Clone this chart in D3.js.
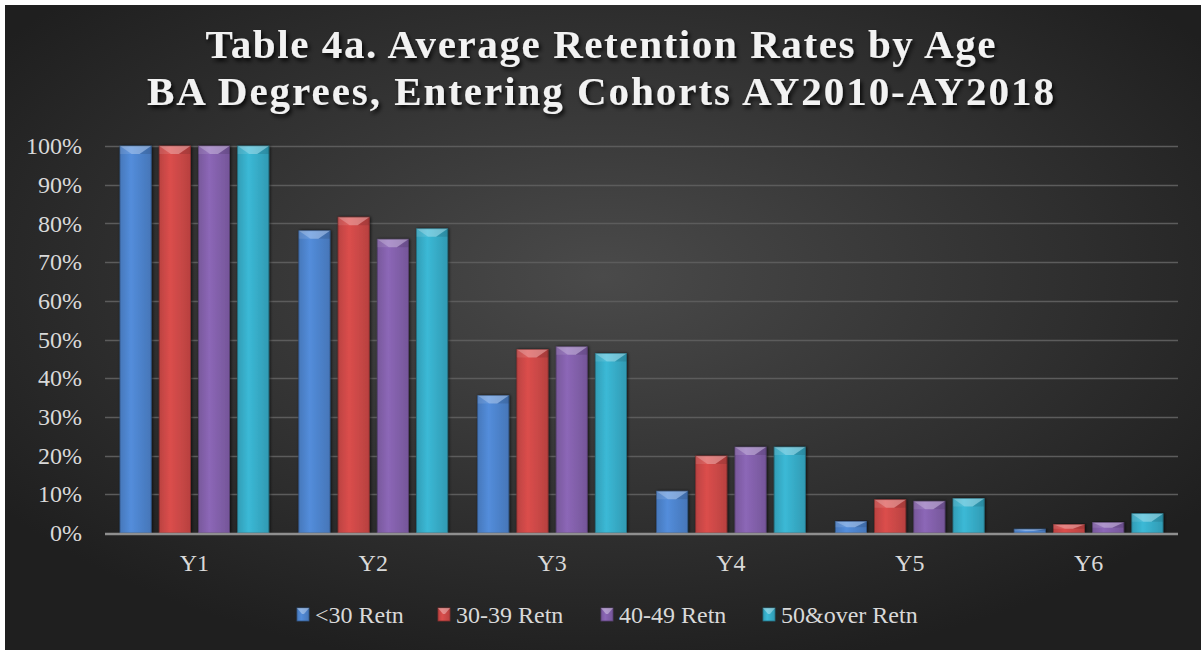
<!DOCTYPE html>
<html lang="en">

<head>
	<meta charset="UTF-8">
	<title>Retention Rates by Age</title>

	<style>
		body { margin: 0; background: #fff; }
		svg { display: block; }
		text { font-family: "Liberation Serif", "DejaVu Serif", serif; }
	</style>

	<script src="https://d3js.org/d3.v7.min.js"></script>
</head>

<body>
	<script type="text/javascript">
		const width = 1201;
		const height = 650;

		// chart data
		const years = ["Y1", "Y2", "Y3", "Y4", "Y5", "Y6"];
		const seriesNames = ["<30 Retn", "30-39 Retn", "40-49 Retn", "50&over Retn"];
		const under30 = [1.00, 0.781, 0.355, 0.108, 0.030, 0.010];
		const age30to39 = [1.00, 0.816, 0.474, 0.199, 0.086, 0.022];
		const age40to49 = [1.00, 0.759, 0.481, 0.222, 0.082, 0.027];
		const age50over = [1.00, 0.786, 0.464, 0.222, 0.089, 0.050];
		const yTicks = [0, 0.1, 0.2, 0.3, 0.4, 0.5, 0.6, 0.7, 0.8, 0.9, 1.0];
		const titleLines = ["Table 4a. Average Retention Rates by Age", "BA Degrees, Entering Cohorts AY2010-AY2018"];

		const allSeries = [under30, age30to39, age40to49, age50over];
		const colors = ["#4f86d0", "#d04a48", "#8562ad", "#38afcb"];

		const svg = d3.select("body").append("svg")
			.attr("width", width)
			.attr("height", height);

		const defs = svg.append("defs");

		// background gradient
		const bg = defs.append("radialGradient").attr("id", "bg")
			.attr("cx", "50%").attr("cy", "42%").attr("r", "62%");
		bg.append("stop").attr("offset", "0%").attr("stop-color", "#4a4a4a");
		bg.append("stop").attr("offset", "100%").attr("stop-color", "#1f1f1f");

		// bar gradients, one per series
		colors.forEach(function(c, i) {
			const g = defs.append("linearGradient").attr("id", "bar" + i)
				.attr("x1", "0%").attr("x2", "100%").attr("y1", "0%").attr("y2", "0%");
			g.append("stop").attr("offset", "0%").attr("stop-color", d3.color(c).darker(0.3));
			g.append("stop").attr("offset", "35%").attr("stop-color", d3.color(c).brighter(0.15));
			g.append("stop").attr("offset", "100%").attr("stop-color", d3.color(c).darker(0.35));
		});

		const shadow = defs.append("filter").attr("id", "shadow")
			.attr("x", "-10%").attr("y", "-20%").attr("width", "120%").attr("height", "150%");
		shadow.append("feDropShadow").attr("dx", 2).attr("dy", 3).attr("stdDeviation", 2)
			.attr("flood-color", "#000").attr("flood-opacity", 0.85);

		const barShadow = defs.append("filter").attr("id", "barShadow")
			.attr("x", "-30%").attr("y", "-10%").attr("width", "160%").attr("height", "120%");
		barShadow.append("feDropShadow").attr("dx", 1).attr("dy", 0).attr("stdDeviation", 1.5)
			.attr("flood-color", "#000").attr("flood-opacity", 0.7);

		svg.append("rect")
			.attr("x", 5).attr("y", 5)
			.attr("width", width - 5).attr("height", height - 5)
			.attr("fill", "url(#bg)");

		// title
		const titleWidths = [790, 907];
		svg.selectAll(".title")
			.data(titleLines)
			.join("text")
			.classed("title", true)
			.attr("x", width / 2)
			.attr("y", function(d, i) { return 58 + i * 47; })
			.attr("text-anchor", "middle")
			.attr("fill", "#f2f2f2")
			.attr("font-size", "41px")
			.attr("font-weight", "bold")
			.attr("textLength", function(d, i) { return titleWidths[i]; })
			.attr("lengthAdjust", "spacing")
			.attr("filter", "url(#shadow)")
			.text(function(d) { return d; });

		// scales
		const x0 = d3.scaleBand().domain(years).range([105, 1178]);
		const x1 = d3.scaleBand().domain(d3.range(seriesNames.length))
			.range([15, x0.bandwidth() - 15]).paddingInner(8 / 39);
		const y = d3.scaleLinear().domain([0, 1]).range([533, 146]);

		// gridlines
		svg.append("g")
			.selectAll("line")
			.data(yTicks.slice(1))
			.join("line")
			.attr("x1", 105).attr("x2", 1178)
			.attr("y1", function(d) { return Math.round(y(d)) + 0.5; })
			.attr("y2", function(d) { return Math.round(y(d)) + 0.5; })
			.attr("stroke", "#5c5c5c")
			.attr("stroke-width", 1.5);

		// y axis labels
		const yAxis = d3.axisLeft(y).tickValues(yTicks).tickFormat(d3.format(".0%")).tickSize(0).tickPadding(0);
		const yg = svg.append("g").attr("transform", "translate(82,0)").call(yAxis);
		yg.select(".domain").remove();
		yg.selectAll("text")
			.attr("fill", "#d9d9d9")
			.attr("font-size", "24px")
			.style("font-family", "'Liberation Serif', serif");

		// bars
		const groups = svg.append("g")
			.selectAll("g")
			.data(years)
			.join("g")
			.attr("transform", function(d) { return "translate(" + x0(d) + ",0)"; });

		groups.each(function(year, yi) {
			const g = d3.select(this);
			allSeries.forEach(function(vals, si) {
				const v = vals[yi];
				const bx = x1(si);
				const bw = x1.bandwidth();
				const by = y(v);
				const bh = y(0) - by;
				const bar = g.append("g").attr("filter", "url(#barShadow)");
				bar.append("rect")
					.attr("x", bx).attr("y", by)
					.attr("width", bw).attr("height", bh)
					.attr("fill", "url(#bar" + si + ")")
					.attr("stroke", d3.color(colors[si]).darker(1.2))
					.attr("stroke-width", 0.8);
				// bevel on top
				const b = Math.min(8, bh / 2, bw / 2);
				bar.append("path")
					.attr("d", "M" + bx + "," + by + "L" + (bx + bw) + "," + by +
						"L" + (bx + bw / 2 + 4) + "," + (by + b) + "L" + (bx + bw / 2 - 4) + "," + (by + b) + "Z")
					.attr("fill", "#fff").attr("opacity", 0.3);
				bar.append("path")
					.attr("d", "M" + bx + "," + by + "L" + (bx + bw / 2 - 4) + "," + (by + b) +
						"L" + bx + "," + (by + b) + "Z")
					.attr("fill", "#fff").attr("opacity", 0.1);
				bar.append("path")
					.attr("d", "M" + (bx + bw) + "," + by + "L" + (bx + bw / 2 + 4) + "," + (by + b) +
						"L" + (bx + bw) + "," + (by + b) + "Z")
					.attr("fill", "#000").attr("opacity", 0.1);
			});
		});

		// x axis line and labels
		svg.append("line")
			.attr("x1", 105).attr("x2", 1178)
			.attr("y1", y(0) + 1).attr("y2", y(0) + 1)
			.attr("stroke", "#8f8f8f").attr("stroke-width", 2.5);

		svg.selectAll(".xlabel")
			.data(years)
			.join("text")
			.classed("xlabel", true)
			.attr("x", function(d) { return x0(d) + x0.bandwidth() / 2; })
			.attr("y", 571)
			.attr("text-anchor", "middle")
			.attr("fill", "#d9d9d9")
			.attr("font-size", "24px")
			.text(function(d) { return d; });

		// legend
		const legendX = [297, 438, 601, 763];
		const legend = svg.selectAll(".legend")
			.data(seriesNames)
			.join("g")
			.classed("legend", true)
			.attr("transform", function(d, i) { return "translate(" + legendX[i] + ",615)"; });

		legend.append("rect")
			.attr("x", 0).attr("y", -7)
			.attr("width", 12).attr("height", 13)
			.attr("fill", function(d, i) { return "url(#bar" + i + ")"; })
			.attr("stroke", function(d, i) { return d3.color(colors[i]).darker(1.2); })
			.attr("stroke-width", 0.8);
		legend.append("path")
			.attr("d", "M0,-7L12,-7L7,-1L5,-1Z")
			.attr("fill", "#fff").attr("opacity", 0.35);

		legend.append("text")
			.attr("x", 18)
			.attr("y", 8)
			.attr("fill", "#d9d9d9")
			.attr("font-size", "24px")
			.text(function(d) { return d; });
	</script>
</body>

</html>
